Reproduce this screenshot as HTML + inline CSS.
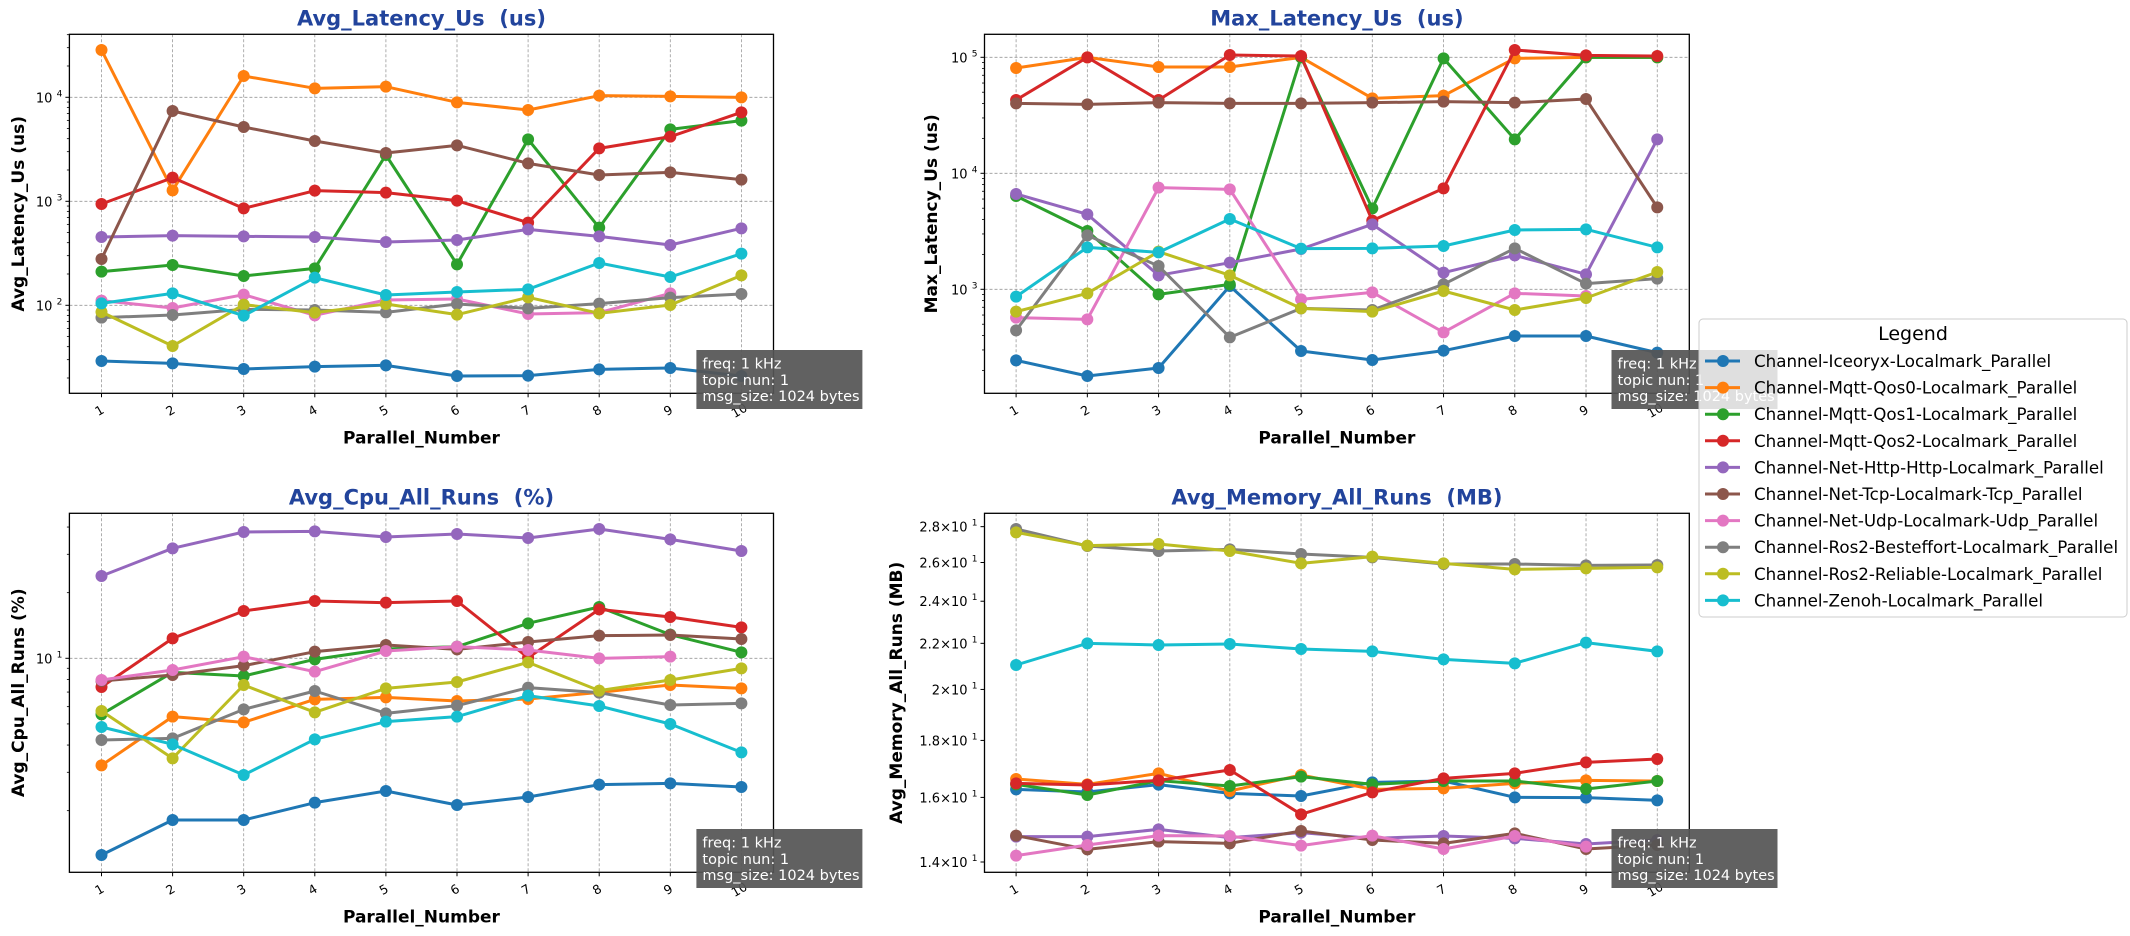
<!DOCTYPE html>
<html><head><meta charset="utf-8"><style>
html,body{margin:0;padding:0;background:#fff;}
svg{display:block;font-family:"DejaVu Sans","Liberation Sans",sans-serif;}
</style></head><body>
<svg id="s" width="2130" height="936" viewBox="0 0 2130 936" xmlns="http://www.w3.org/2000/svg"></svg>
<script>
const C=['#1f77b4','#ff7f0e','#2ca02c','#d62728','#9467bd','#8c564b','#e377c2','#7f7f7f','#bcbd22','#17becf'];
const names=['Channel-Iceoryx-Localmark_Parallel','Channel-Mqtt-Qos0-Localmark_Parallel','Channel-Mqtt-Qos1-Localmark_Parallel','Channel-Mqtt-Qos2-Localmark_Parallel','Channel-Net-Http-Http-Localmark_Parallel','Channel-Net-Tcp-Localmark-Tcp_Parallel','Channel-Net-Udp-Localmark-Udp_Parallel','Channel-Ros2-Besteffort-Localmark_Parallel','Channel-Ros2-Reliable-Localmark_Parallel','Channel-Zenoh-Localmark_Parallel'];
const P=[
{x0:69.4,x1:773.5,y0:34.3,y1:393.3,t0:101.5,dt:71.1,yoff:0,title:'Avg_Latency_Us \u00a0(us)',yl:'Avg_Latency_Us (us)',ylx:18,
 log:{ref:305.3,refExp:2,dec:104,exps:[2,3,4]},
 d:[[1083,1090,1107,1100,1096,1128,1127,1108,1104,1128],[150,571,228,265,260,307,330,287,289,292],[815,795,828,805,465,793,418,683,388,362],[612,533,625,572,578,602,668,445,410,337],[711,707,709,711,726,720,688,709,735,685],[777,333,381,423,459,436,490,525,517,539],[902,924,884,946,900,897,942,938,880,null],[953,945,928,930,937,912,925,911,893,882],[936,1038,914,938,912,944,892,940,915,826],[910,880,947,833,885,876,868,789,831,761]]},
{x0:984.5,x1:1689.3,y0:34.3,y1:393.3,t0:1016.1,dt:71.24,yoff:0,title:'Max_Latency_Us \u00a0(us)',yl:'Max_Latency_Us (us)',ylx:931,
 log:{ref:289.3,refExp:3,dec:116,exps:[3,4,5]},
 d:[[1081,1128,1104,858,1053,1080,1052,1008,1008,1058],[204,172,201,201,172,295,287,175,172,172],[588,693,883,853,172,625,175,418,172,172],[300,172,300,165,168,662,565,150,166,168],[582,643,826,788,747,673,818,766,823,418],[310,313,308,310,310,308,305,308,297,622],[953,958,563,568,898,877,997,880,888,null],[991,706,798,1012,925,930,853,745,851,836],[935,880,755,826,925,935,873,930,894,816],[890,742,757,657,746,745,738,690,688,742]]},
{x0:69.4,x1:773.5,y0:513.3,y1:872.3,t0:101.5,dt:71.1,yoff:470,title:'Avg_Cpu_All_Runs \u00a0(%)',yl:'Avg_Cpu_All_Runs (%)',ylx:18,
 log:{ref:658.3,refExp:1,dec:218,exps:[1]},
 d:[[1155,1050,1050,998,963,1005,981,944,940,951],[886,740,757,688,682,693,687,667,645,655],[733,607,618,568,537,530,460,411,494,547],[651,505,423,393,398,393,563,418,441,472],[318,235,186,184,201,192,204,177,208,243],[633,615,587,545,525,538,516,497,495,507],[630,600,560,605,543,530,540,565,560,null],[810,805,718,663,730,707,653,668,705,700],[723,865,645,727,655,636,577,662,630,595],[771,823,915,808,755,740,677,708,762,847]]},
{x0:984.5,x1:1689.3,y0:513.3,y1:872.3,t0:1016.1,dt:71.24,yoff:470,title:'Avg_Memory_All_Runs \u00a0(MB)',yl:'Avg_Memory_All_Runs (MB)',ylx:896,
 mem:true,
 d:[[958,966,944,970,978,937,933,982,983,991],[927,943,910,963,915,958,955,940,931,933],[943,975,932,948,920,943,933,933,957,933],[940,945,931,900,1033,967,925,910,877,867],[1100,1100,1078,1103,1088,1105,1098,1105,1122,1110],[1097,1138,1115,1120,1083,1110,1120,1090,1137,1125],[1157,1125,1097,1098,1127,1097,1137,1098,1130,null],[177,228,243,238,252,262,282,282,286,285],[187,227,222,243,280,260,280,298,295,292],[585,520,525,522,537,544,568,580,518,544]]}
];
let o='';
for(const p of P){
  const cx=(p.x0+p.x1)/2;
  o+=`<text x="${cx}" y="${p.y0-9}" text-anchor="middle" font-size="21" font-weight="bold" fill="#22449c">${p.title}</text>`;
  for(let i=0;i<10;i++){const x=p.t0+i*p.dt;
    o+=`<line x1="${x}" y1="${p.y0}" x2="${x}" y2="${p.y1}" stroke="#999" stroke-width="0.8" stroke-dasharray="3,2"/>`;
    o+=`<line x1="${x}" y1="${p.y1}" x2="${x}" y2="${p.y1+4}" stroke="#000" stroke-width="1"/>`;
    o+=`<text transform="translate(${x},${p.y1+21}) rotate(-30)" text-anchor="middle" font-size="12.5">${i+1}</text>`;
  }
  if(p.log){const L=p.log;
    const yv=(e)=>L.ref-(e-L.refExp)*L.dec;
    for(let e=L.refExp-3;e<=L.refExp+3;e++){
      for(let m=1;m<10;m++){const y=yv(e+Math.log10(m));
        if(y<p.y0-0.5||y>p.y1+0.5)continue;
        if(m==1){o+=`<line x1="${p.x0}" y1="${y}" x2="${p.x1}" y2="${y}" stroke="#999" stroke-width="0.8" stroke-dasharray="3,2"/>`;
          o+=`<line x1="${p.x0-4}" y1="${y}" x2="${p.x0}" y2="${y}" stroke="#000"/>`;
          o+=`<text x="${p.x0-17}" y="${y+5}" text-anchor="end" font-size="13">10</text><text x="${p.x0-7}" y="${y-1}" text-anchor="end" font-size="9">${e}</text>`;
        } else o+=`<line x1="${p.x0-2.5}" y1="${y}" x2="${p.x0}" y2="${y}" stroke="#000" stroke-width="0.8"/>`;
      }
    }
  } else {
    for(const v of [14,16,18,20,22,24,26,28]){const y=862-1114*Math.log10(v/14);
      o+=`<line x1="${p.x0-4}" y1="${y}" x2="${p.x0}" y2="${y}" stroke="#000"/>`;
      const lab=(v%10==0)?(v/10):(v/10).toFixed(1);
      o+=`<text x="${p.x0-17}" y="${y+5}" text-anchor="end" font-size="13">${lab}\u00d710</text><text x="${p.x0-7}" y="${y-1}" text-anchor="end" font-size="9">1</text>`;
    }
  }
  p.d.forEach((s,k)=>{let pts=[];s.forEach((v,i)=>{if(v!=null)pts.push([p.t0+i*p.dt,v/3+p.yoff]);});
    o+=`<polyline points="${pts.map(q=>q.join(',')).join(' ')}" fill="none" stroke="${C[k]}" stroke-width="3" stroke-linejoin="round"/>`;
    pts.forEach(q=>{o+=`<circle cx="${q[0]}" cy="${q[1]}" r="6" fill="${C[k]}"/>`;});
  });
  o+=`<rect x="${p.x0}" y="${p.y0}" width="${p.x1-p.x0}" height="${p.y1-p.y0}" fill="none" stroke="#000" stroke-width="1.3"/>`;
  o+=`<text x="${cx}" y="${p.y1+50}" text-anchor="middle" font-size="17" font-weight="bold">Parallel_Number</text>`;
  const ym=(p.y0+p.y1)/2;
  o+=`<text transform="translate(${p.ylx+6},${ym}) rotate(-90)" text-anchor="middle" font-size="17" font-weight="bold">${p.yl}</text>`;
  const bx=p.x0+627, by=p.y0+315.7;
  o+=`<rect x="${bx}" y="${by}" width="166" height="59" fill="#555" fill-opacity="0.93"/>`;
  ['freq: 1 kHz','topic nun: 1','msg_size: 1024 bytes'].forEach((t,i)=>{o+=`<text x="${bx+6}" y="${by+18.5+i*16.3}" font-size="14.5" fill="#fff">${t}</text>`;});
}
o+=`<rect x="1699" y="319" width="428" height="298" rx="4" fill="#fff" fill-opacity="0.8" stroke="#ccc" stroke-width="1"/>`;
o+=`<text x="1913" y="340" text-anchor="middle" font-size="19">Legend</text>`;
names.forEach((n,i)=>{const y=361+i*26.6;
  o+=`<line x1="1705" y1="${y}" x2="1740" y2="${y}" stroke="${C[i]}" stroke-width="3"/><circle cx="1723" cy="${y}" r="6" fill="${C[i]}"/>`;
  o+=`<text x="1754" y="${y+6}" font-size="16.7">${n}</text>`;
});
document.getElementById('s').innerHTML=o;
</script>
</body></html>
